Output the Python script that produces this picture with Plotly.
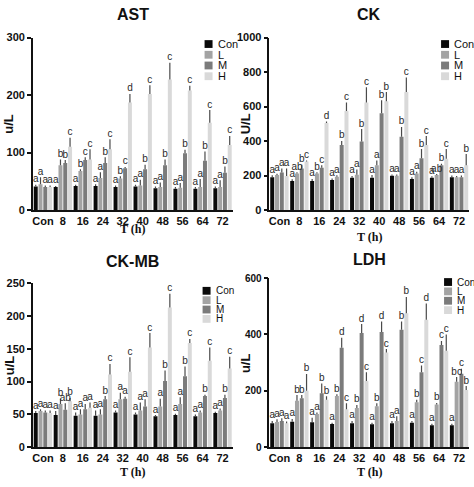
import plotly.graph_objects as go

TIMES = ["Con", "8", "16", "24", "32", "40", "48", "56", "64", "72"]
GROUPS = ["Con", "L", "M", "H"]
COLORS = ["#0a0a0a", "#a3a3a3", "#7b7b7b", "#d9d9d9"]

# ---- AST ----
AST_CON = [41, 40, 42, 42, 40, 41, 38, 37, 37, 38]
AST_L = [45, 78, 68, 56, 55, 43, 40, 39, 40, 40]
AST_M = [40, 82, 87, 82, 73, 71, 78, 99, 86, 65]
AST_H = [40, 110, 88, 106, 187, 202, 227, 208, 152, 113]
AST_ERR_CON = [3, 2, 2, 3, 3, 3, 3, 3, 3, 3]
AST_ERR_L = [12, 10, 3, 10, 4, 10, 8, 8, 14, 12]
AST_ERR_M = [3, 5, 5, 10, 2, 8, 10, 6, 16, 11]
AST_ERR_H = [3, 16, 18, 17, 15, 15, 29, 8, 22, 16]
AST_LET_CON = ["a"] * 10
AST_LET_L = ["a", "b", "b", "a", "b", "a", "a", "a", "a", "a"]
AST_LET_M = ["a", "b", "c", "b", "c", "b", "b", "b", "b", "b"]
AST_LET_H = ["a", "c", "c", "c", "d", "c", "c", "c", "c", "c"]

# ---- CK ----
CK_CON = [190, 169, 169, 175, 188, 188, 199, 181, 188, 190]
CK_L = [203, 212, 212, 194, 205, 260, 199, 212, 203, 190]
CK_M = [218, 241, 246, 378, 397, 561, 425, 301, 260, 190]
CK_H = [198, 282, 505, 574, 623, 631, 684, 378, 297, 260]
CK_ERR_CON = [12, 10, 12, 8, 10, 15, 8, 10, 8, 10]
CK_ERR_L = [8, 8, 8, 8, 30, 28, 8, 10, 6, 8]
CK_ERR_M = [23, 22, 14, 23, 73, 75, 57, 53, 8, 10]
CK_ERR_H = [43, 5, 8, 49, 89, 53, 84, 51, 57, 65]
CK_LET_CON = ["a"] * 10
CK_LET_L = ["a", "ab", "b", "a", "a", "a", "a", "a", "ab", "a"]
CK_LET_M = ["a", "b", "c", "b", "b", "b", "b", "b", "b", "a"]
CK_LET_H = ["a", "c", "d", "c", "c", "b", "c", "c", "c", "b"]

# ---- CK-MB ----
CKMB_CON = [52, 49, 48, 48, 53, 50, 47, 49, 47, 52]
CKMB_L = [55, 66, 50, 50, 73, 56, 62, 66, 53, 56]
CKMB_M = [53, 57, 58, 73, 74, 62, 101, 108, 78, 75]
CKMB_H = [52, 70, 60, 111, 115, 152, 213, 159, 132, 120]
CKMB_ERR_CON = [3, 6, 5, 8, 3, 3, 2, 2, 3, 2]
CKMB_ERR_L = [3, 8, 8, 8, 10, 12, 12, 10, 3, 3]
CKMB_ERR_M = [3, 10, 8, 5, 3, 11, 16, 15, 2, 5]
CKMB_ERR_H = [4, 5, 8, 16, 22, 22, 21, 6, 20, 18]
CKMB_LET_CON = ["a"] * 10
CKMB_LET_L = ["a", "b", "a", "a", "a", "a", "a", "a", "a", "a"]
CKMB_LET_M = ["a", "ab", "a", "b", "a", "a", "b", "b", "b", "b"]
CKMB_LET_H = ["a", "b", "a", "c", "c", "c", "c", "c", "c", "c"]

# ---- LDH ----
LDH_CON = [85, 90, 88, 82, 85, 81, 85, 87, 78, 78]
LDH_L = [89, 165, 118, 182, 139, 145, 93, 159, 151, 232]
LDH_M = [93, 174, 191, 353, 405, 409, 417, 266, 363, 261]
LDH_H = [85, 200, 168, 135, 235, 336, 475, 452, 342, 203]
LDH_ERR_CON = [8, 10, 16, 5, 8, 6, 8, 6, 5, 5]
LDH_ERR_L = [10, 20, 5, 6, 11, 11, 17, 9, 6, 17]
LDH_ERR_M = [10, 11, 35, 35, 32, 37, 29, 24, 14, 17]
LDH_ERR_H = [6, 60, 13, 21, 31, 12, 58, 58, 58, 14]
LDH_LET_CON = ["a"] * 10
LDH_LET_L = ["a", "b", "a", "b", "b", "b", "a", "b", "b", "bc"]
LDH_LET_M = ["a", "b", "b", "d", "d", "d", "b", "c", "c", "c"]
LDH_LET_H = ["a", "b", "b", "c", "c", "c", "b", "d", "c", "b"]

W, H = 474, 487

PANELS = [
    dict(title="AST", ytitle="u/L", ymax=300, dtick=100,
         means=[AST_CON, AST_L, AST_M, AST_H],
         errs=[AST_ERR_CON, AST_ERR_L, AST_ERR_M, AST_ERR_H],
         lets=[AST_LET_CON, AST_LET_L, AST_LET_M, AST_LET_H],
         px=(32, 232), py=(32.3, 209.3), title_y=9, xt_y=229,
         leg=(204, 39, 11), ytick_size=11),
    dict(title="CK", ytitle="U/L", ymax=1000, dtick=200,
         means=[CK_CON, CK_L, CK_M, CK_H],
         errs=[CK_ERR_CON, CK_ERR_L, CK_ERR_M, CK_ERR_H],
         lets=[CK_LET_CON, CK_LET_L, CK_LET_M, CK_LET_H],
         px=(269, 469), py=(32.3, 209.3), title_y=9, xt_y=237,
         leg=(441, 39, 11), ytick_size=11),
    dict(title="CK-MB", ytitle="u/L", ymax=250, dtick=50,
         means=[CKMB_CON, CKMB_L, CKMB_M, CKMB_H],
         errs=[CKMB_ERR_CON, CKMB_ERR_L, CKMB_ERR_M, CKMB_ERR_H],
         lets=[CKMB_LET_CON, CKMB_LET_L, CKMB_LET_M, CKMB_LET_H],
         px=(32, 232), py=(284.3, 452.3), title_y=262, xt_y=478,
         leg=(202, 292, 9.6), ytick_size=11),
    dict(title="LDH", ytitle="u/L", ymax=600, dtick=200,
         means=[LDH_CON, LDH_L, LDH_M, LDH_H],
         errs=[LDH_ERR_CON, LDH_ERR_L, LDH_ERR_M, LDH_ERR_H],
         lets=[LDH_LET_CON, LDH_LET_L, LDH_LET_M, LDH_LET_H],
         px=(269, 469), py=(279, 452.3), title_y=260, xt_y=478,
         leg=(444, 283, 9.6), ytick_size=10),
]

SLOT = 0.24
BARW = 0.2
FONT = "Liberation Sans, Arial, sans-serif"

fig = go.Figure()
annotations = []
shapes = []

for p_i, p in enumerate(PANELS):
    sfx = "" if p_i == 0 else str(p_i + 1)
    xa, ya = "x" + sfx, "y" + sfx
    for j, g in enumerate(GROUPS):
        xs = [i + (j - 1.5) * SLOT for i in range(len(TIMES))]
        fig.add_trace(go.Bar(
            x=xs, y=p["means"][j], width=BARW, name=g,
            marker=dict(color=COLORS[j], line=dict(width=0)),
            error_y=dict(type="data", symmetric=False, array=p["errs"][j],
                         arrayminus=[0] * len(TIMES), color="#4a4a4a",
                         thickness=1.2, width=0),
            xaxis=xa, yaxis=ya, showlegend=False, hoverinfo="skip"))
        tops = [m + e for m, e in zip(p["means"][j], p["errs"][j])]
        fig.add_trace(go.Scatter(
            x=xs, y=tops, text=p["lets"][j], mode="text",
            textposition="top center", cliponaxis=False,
            textfont=dict(family=FONT, size=10, color="#2a2a2a"),
            xaxis=xa, yaxis=ya, showlegend=False, hoverinfo="skip"))

    x0, x1 = p["px"]
    y0, y1 = p["py"]
    xdom = [x0 / W, x1 / W]
    ydom = [(H - y1) / H, (H - y0) / H]
    axx = dict(domain=xdom, range=[-0.5, 9.5], tickmode="array",
               tickvals=list(range(len(TIMES))), ticktext=TIMES,
               showline=True, linecolor="#111", linewidth=1.5,
               ticks="", showgrid=False, zeroline=False,
               tickfont=dict(family=FONT, size=11, color="#111", weight="bold"),
               anchor=ya, fixedrange=True)
    axy = dict(domain=ydom, range=[0, p["ymax"]], dtick=p["dtick"],
               showline=True, linecolor="#111", linewidth=1.5,
               ticks="outside", ticklen=4, tickwidth=1.5, tickcolor="#111",
               showgrid=False, zeroline=False,
               tickfont=dict(family=FONT, size=p["ytick_size"], color="#111",
                             weight="bold"),
               anchor=xa, fixedrange=True)
    fig.update_layout(**{"xaxis" + sfx: axx, "yaxis" + sfx: axy})

    cx = (x0 + x1) / 2 / W
    annotations.append(dict(text="<b>" + p["title"] + "</b>", x=cx,
                            y=(H - p["title_y"]) / H, xref="paper", yref="paper",
                            showarrow=False, xanchor="center", yanchor="middle",
                            font=dict(family=FONT, size=16, color="#111")))
    annotations.append(dict(text="<b>T (h)</b>", x=cx, y=(H - p["xt_y"]) / H,
                            xref="paper", yref="paper", showarrow=False,
                            xanchor="center", yanchor="middle",
                            font=dict(family="Liberation Serif, Times New Roman, serif",
                                      size=12, color="#111")))
    annotations.append(dict(text="<b>" + p["ytitle"] + "</b>", x=(x0 - 24) / W,
                            y=(H - (y0 + y1) / 2) / H, xref="paper", yref="paper",
                            showarrow=False, xanchor="center", yanchor="middle",
                            textangle=-90,
                            font=dict(family=FONT, size=13, color="#111")))
    lx, ly, lstep = p["leg"]
    for j, g in enumerate(GROUPS):
        yc = ly + j * lstep
        shapes.append(dict(type="rect", xref="paper", yref="paper",
                           x0=lx / W, x1=(lx + 8) / W,
                           y0=(H - yc - 4) / H, y1=(H - yc + 4) / H,
                           fillcolor=COLORS[j], line=dict(width=0)))
        annotations.append(dict(text=g, x=(lx + 11) / W, y=(H - yc) / H,
                                xref="paper", yref="paper", showarrow=False,
                                xanchor="left", yanchor="middle",
                                font=dict(family=FONT, size=11 if lstep > 10 else 10,
                                          color="#111")))

fig.update_layout(width=W, height=H, margin=dict(l=0, r=0, t=0, b=0),
                  paper_bgcolor="white", plot_bgcolor="white",
                  barmode="overlay", showlegend=False,
                  annotations=annotations, shapes=shapes)

fig.write_html("out.html", config={"displayModeBar": False},
               post_script="document.body.style.margin='0';document.body.style.overflow='hidden';")
